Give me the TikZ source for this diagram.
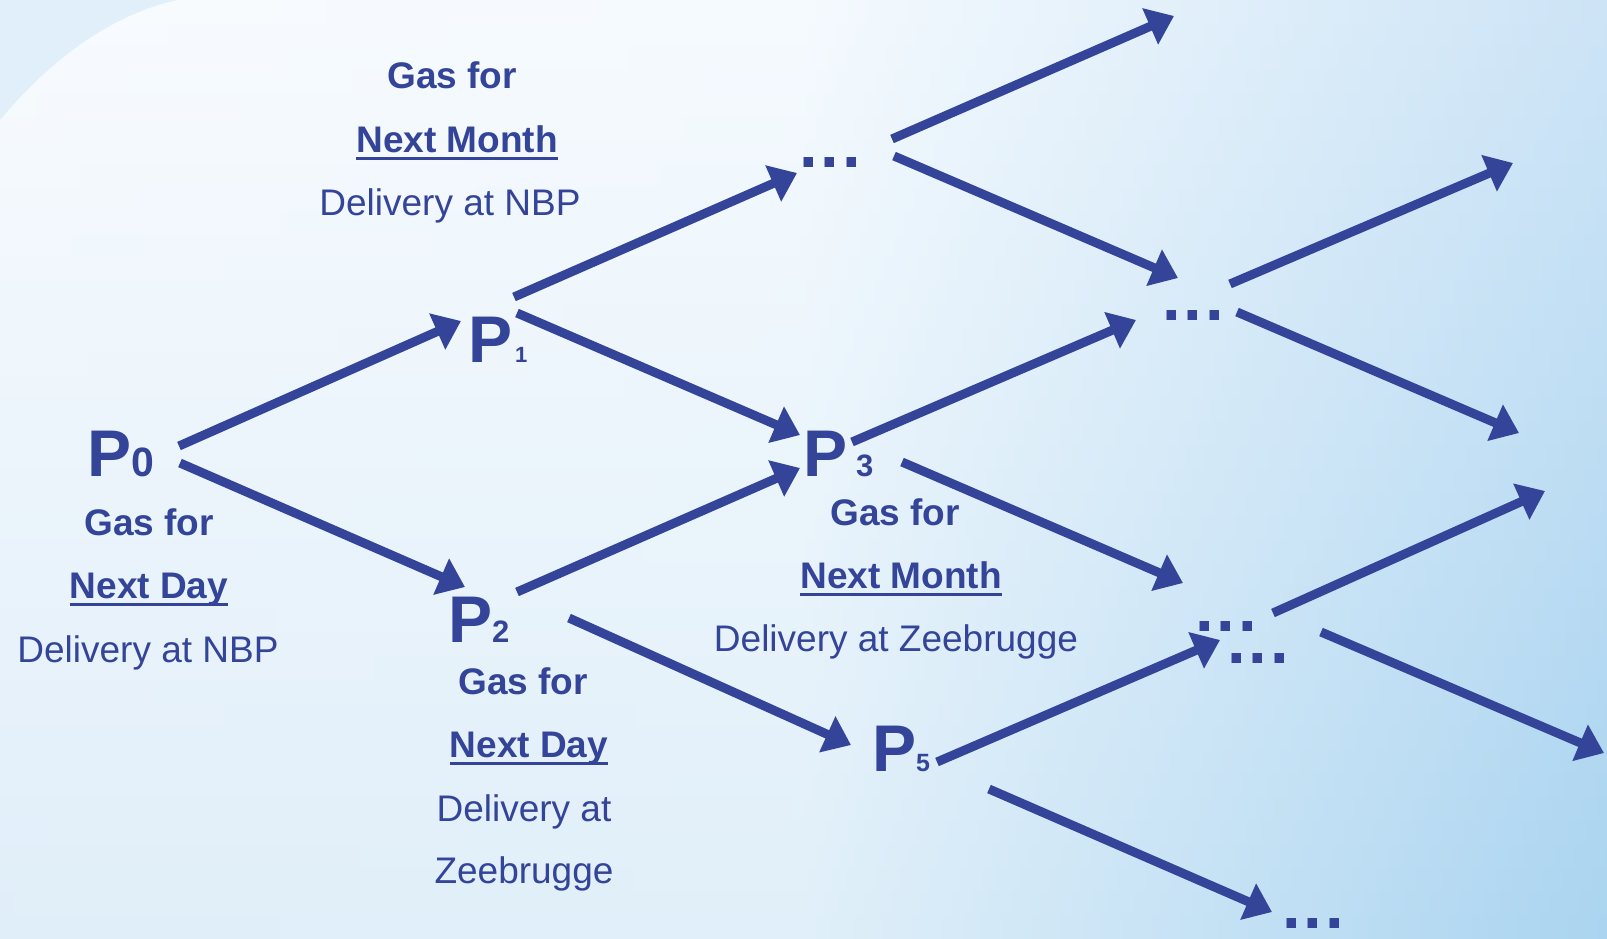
\documentclass[tikz,border=0pt]{standalone}
\usepackage{fontspec}
\setmainfont{Liberation Sans}
\usetikzlibrary{arrows.meta}
\definecolor{mainblue}{RGB}{51,68,153}
\definecolor{bgTL}{HTML}{F8FBFE}
\definecolor{bgTM}{HTML}{F5FAFE}
\definecolor{bgTR}{HTML}{CDE4F6}
\definecolor{bgBL}{HTML}{E0EEF9}
\definecolor{bgBM}{HTML}{E0EFF9}
\definecolor{bgBR}{HTML}{AAD4F0}
\definecolor{cornerblue}{HTML}{E0EFFA}
\newcommand\mysub[2]{{\fontsize{#1}{#1}\selectfont #2}}
\newcommand\myell{.\kern3pt.\kern3pt.}
\tikzset{
  pnode/.style={anchor=base west, inner sep=0pt, outer sep=0pt, text=mainblue, font=\bfseries\fontsize{66}{66}\selectfont},
  lbl/.style={anchor=base, inner sep=0pt, outer sep=0pt, text=mainblue, font=\fontsize{37}{37}\selectfont},
  lblb/.style={anchor=base, inner sep=0pt, outer sep=0pt, text=mainblue, font=\bfseries\fontsize{37}{37}\selectfont},
  dotsnode/.style={anchor=base west, inner sep=0pt, outer sep=0pt, text height=10pt, text depth=0pt, text=mainblue, font=\bfseries\fontsize{67}{67}\selectfont},
  arr/.style={draw=mainblue, line width=9pt, -{Triangle[length=26pt,width=38pt]}},
  ulline/.style={draw=mainblue, line width=3pt}
}
\begin{document}
\begin{tikzpicture}[x=1pt,y=-1pt]
\useasboundingbox (0,0) rectangle (1607,938);
% background: horizontal shadings in thin bands, blended top to bottom
\foreach \i in {0,...,39} {
  \pgfmathsetmacro\pv{(\i+0.5)*2.5}
  \pgfmathsetmacro\yy{\i*23.45}
  \colorlet{sl}{bgBL!\pv!bgTL}
  \colorlet{sm}{bgBM!\pv!bgTM}
  \colorlet{sr}{bgBR!\pv!bgTR}
  \colorlet{sq}{sr!35!sm}
  \shade[left color=sl, right color=sm] (0,\yy) rectangle (804,\yy+24.5);
  \shade[left color=sm, middle color=sq, right color=sr] (803,\yy) rectangle (1607,\yy+24.5);
}
\fill[cornerblue] (0,0) -- (0,120) .. controls (50,60) and (110,15) .. (177,0) -- cycle;

% P nodes
\node[pnode] (p0) at (87,476) {P\mysub{41}{0}};
\node[pnode] (p1) at (468,362) {P\kern3pt\mysub{22}{1}};
\node[pnode] (p2) at (448,642) {P\mysub{31}{2}};
\node[pnode] (p3) at (803,476) {P\kern9pt\mysub{31}{3}};
\node[pnode] (p5) at (872,771) {P\mysub{25}{5}};

% ellipses
\node[dotsnode] (d1) at (799.4,167) {\myell};
\node[dotsnode] (d2) at (1162.4,320) {\myell};
\node[dotsnode] (d3a) at (1195.4,631) {\myell};
\node[dotsnode] (d3b) at (1227.4,663) {\myell};
\node[dotsnode] (d4) at (1282.4,928) {\myell};

% labels
\node[lblb] (t1a) at (452,88) {Gas for};
\node[lblb] (t1b) at (457,152) {Next Month};
\node[lbl]  (t1c) at (450,215) {Delivery at NBP};
\node[lblb] (t0a) at (149,535) {Gas for};
\node[lblb] (t0b) at (149,598) {Next Day};
\node[lbl]  (t0c) at (148,662) {Delivery at NBP};
\node[lblb] (t3a) at (895,525) {Gas for};
\node[lblb] (t3b) at (901,588) {Next Month};
\node[lbl]  (t3c) at (896,651) {Delivery at Zeebrugge};
\node[lblb] (t2a) at (523,694) {Gas for};
\node[lblb] (t2b) at (529,757) {Next Day};
\node[lbl]  (t2c) at (524,821) {Delivery at};
\node[lbl]  (t2d) at (524,883) {Zeebrugge};
\foreach \n in {t1b,t0b,t3b,t2b}
  \draw[ulline] ([yshift=-6pt]\n.base west) -- ([yshift=-6pt]\n.base east);

% arrow end points
\coordinate (a1s) at (179,446);  \coordinate (a1e) at (461,321);
\coordinate (a2s) at (180,463);  \coordinate (a2e) at (465,587);
\coordinate (a3s) at (514,297);  \coordinate (a3e) at (797,173);
\coordinate (a4s) at (517,313);  \coordinate (a4e) at (800,435);
\coordinate (a5s) at (517,592);  \coordinate (a5e) at (800,468);
\coordinate (a6s) at (569,618);  \coordinate (a6e) at (851,745);
\coordinate (a7s) at (892,139);  \coordinate (a7e) at (1174,16);
\coordinate (a8s) at (894,156);  \coordinate (a8e) at (1178,278);
\coordinate (a9s) at (852,442);  \coordinate (a9e) at (1136,320);
\coordinate (a10s) at (902,462); \coordinate (a10e) at (1183,583);
\coordinate (a11s) at (1230,284); \coordinate (a11e) at (1513,163);
\coordinate (a12s) at (1237,312); \coordinate (a12e) at (1519,433);
\coordinate (a13s) at (1273,613); \coordinate (a13e) at (1545,491);
\coordinate (a14s) at (1321,632); \coordinate (a14e) at (1604,753);
\coordinate (a15s) at (937,762); \coordinate (a15e) at (1220,640);
\coordinate (a16s) at (989,789); \coordinate (a16e) at (1272,912);
\foreach \i in {1,...,16}
  \draw[arr] (a\i s) -- (a\i e);
\end{tikzpicture}
\end{document}
